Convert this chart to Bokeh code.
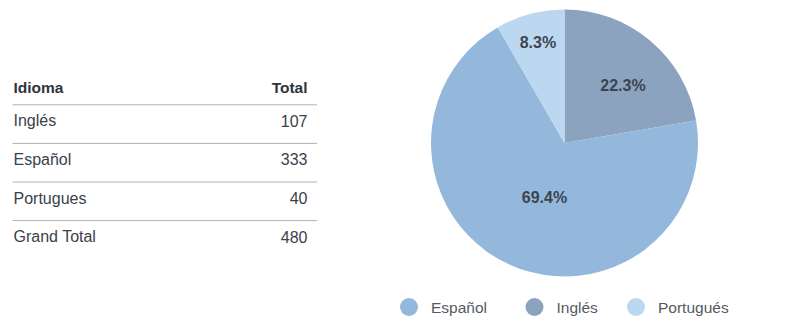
import math
from bokeh.plotting import figure
from bokeh.models import Range1d
from bokeh.core.properties import value
from bokeh.embed import file_html
from bokeh.resources import INLINE

# ---- data ----
header = ["Idioma", "Total"]
languages = ["Inglés", "Español", "Portugues"]
totals = [107, 333, 40]
grand_label = "Grand Total"

pie_labels = ["Inglés", "Español", "Portugués"]   # clockwise from 12 o'clock
pie_values = [107, 333, 40]
legend_labels = ["Español", "Inglés", "Portugués"]
colors = {"Español": "#94b8dc", "Inglés": "#8ca3bf", "Portugués": "#bcd8f1"}

W, H = 800, 327
FONT = value("Liberation Sans")
TXT = "#3b414a"


def sy(y):
    return H - y


p = figure(width=W, height=H, x_range=Range1d(0, W), y_range=Range1d(0, H),
           output_backend="svg", toolbar_location=None, min_border=0,
           outline_line_color=None, background_fill_color="white")
p.axis.visible = False
p.grid.visible = False

# ---- table ----
left, right_txt, line_x0, line_x1 = 13, 307, 12, 316.5
header_y = 87.3
row_y0 = 120.3
row_step = 38.6
line_y0 = 104.3

p.text([left], [sy(header_y)], text=[header[0]], text_font=FONT, text_font_size="15.5px",
       text_font_style="bold", text_color="#2f343b", text_baseline="middle", text_align="left")
p.text([right_txt], [sy(header_y)], text=[header[1]], text_font=FONT, text_font_size="15.5px",
       text_font_style="bold", text_color="#2f343b", text_baseline="middle", text_align="right")

names = languages + [grand_label]
vals = totals + [sum(totals)]
ys = [row_y0 + i * row_step for i in range(len(names))]
p.text([left] * len(names), [sy(y) for y in ys], text=names, text_font=FONT,
       text_font_size="16px", text_color=TXT, text_baseline="middle", text_align="left")
p.text([right_txt] * len(vals), [sy(y) for y in ys], text=[str(v) for v in vals], text_font=FONT,
       text_font_size="16px", text_color=TXT, text_baseline="middle", text_align="right")

line_ys = [line_y0 + i * row_step for i in range(len(names))]
p.segment(x0=[line_x0] * len(line_ys), y0=[sy(y) for y in line_ys],
          x1=[line_x1] * len(line_ys), y1=[sy(y) for y in line_ys],
          line_color="#a9b3bf", line_width=1)

# ---- pie ----
cx, cy, r = 564, sy(142.5), 133.5
total = sum(pie_values)
starts, ends, mids = [], [], []
a = math.pi / 2
for v in pie_values:
    e = a - v / total * 2 * math.pi
    starts.append(a)
    ends.append(e)
    mids.append((a + e) / 2)
    a = e
p.wedge(x=[cx] * len(pie_values), y=[cy] * len(pie_values), radius=r,
        start_angle=starts, end_angle=ends, direction="clock",
        fill_color=[colors[l] for l in pie_labels], line_color=None)

label_r = {"Inglés": 0.61, "Español": 0.44, "Portugués": 0.77}
label_da = {"Inglés": -0.1, "Español": 0.09, "Portugués": 0.0}
lx, ly, lt = [], [], []
for lab, v, m in zip(pie_labels, pie_values, mids):
    ang = m + label_da[lab]
    rr = r * label_r[lab]
    lx.append(cx + rr * math.cos(ang))
    ly.append(cy + rr * math.sin(ang) + 1)
    lt.append(f"{v / total * 100:.1f}%")
p.text(lx, ly, text=lt, text_font=FONT, text_font_size="16px", text_font_style="bold",
       text_color="#3d4450", text_baseline="middle", text_align="center")

# ---- legend ----
leg_circle_x = [408.5, 534, 635.5]
leg_y = sy(306.5)
p.scatter(leg_circle_x, [leg_y] * 3, size=18, marker="circle",
          fill_color=[colors[l] for l in legend_labels], line_color=None)
p.text([x + 22 for x in leg_circle_x], [leg_y] * 3, text=legend_labels, text_font=FONT,
       text_font_size="15.5px", text_color="#555a62", text_baseline="middle", text_align="left")

open("out.html", "w").write(file_html(p, INLINE))
